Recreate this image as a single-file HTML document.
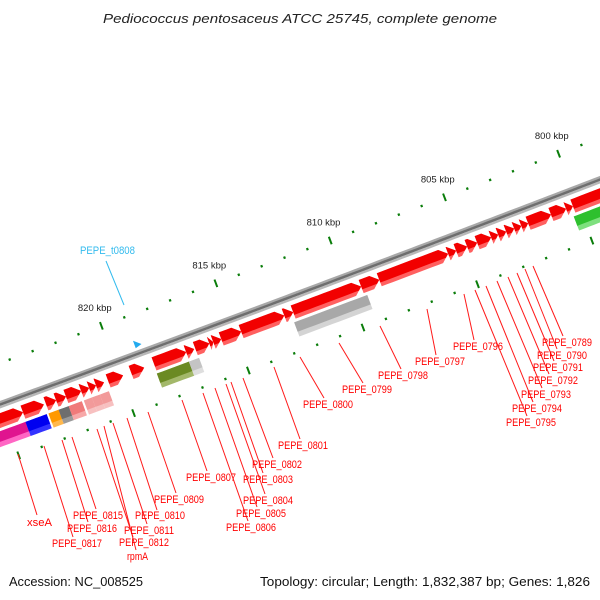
<!DOCTYPE html>
<html><head><meta charset="utf-8">
<style>
html,body{margin:0;padding:0;background:#fff;width:600px;height:600px;overflow:hidden}
svg{display:block}
text{font-family:"Liberation Sans","DejaVu Sans",sans-serif}
</style></head>
<body>
<svg id="map" width="600" height="600" viewBox="0 0 600 600" xmlns="http://www.w3.org/2000/svg">
<rect x="0" y="0" width="600" height="600" fill="#fff"/>
<text x="300" y="23" font-size="13" font-style="italic" fill="#222" text-anchor="middle" textLength="394" lengthAdjust="spacingAndGlyphs">Pediococcus pentosaceus ATCC 25745, complete genome</text>
<g id="ticks"></g>
<g id="backbone"></g>
<g id="genes"></g>
<g id="labels"></g>
<text x="9" y="586" font-size="12.5" fill="#111" textLength="134" lengthAdjust="spacingAndGlyphs">Accession: NC_008525</text>
<text x="260" y="586" font-size="12.5" fill="#111" textLength="330" lengthAdjust="spacingAndGlyphs">Topology: circular; Length: 1,832,387 bp; Genes: 1,826</text>
</svg>
<script>
// ---- data ----
const tickStart = 795;
const tickEnd = 828;
const majorTickLabels = [800, 805, 810, 815, 820];
const redGeneStarts = [825.6,824.23,823.23,822.79,822.36,821.70,821.35,821.05,820.52,819.52,818.52,817.12,816.72,816.11,815.94,815.59,814.72,812.84,812.45,809.48,808.69,805.68,805.33,804.85,804.41,803.80,803.49,803.14,802.79,802.48,802.18,801.18,800.52,800.22];
const redGeneEnds   = [824.23,823.32,822.79,822.36,821.70,821.35,821.05,820.70,519.87+300,818.95,817.12,816.77,816.11,815.94,815.59,814.72,812.84,812.45,809.48,808.69,805.68,805.33,804.85,804.41,803.80,803.49,803.14,802.79,802.48,802.18,801.18,800.52,800.22,798.6];
const row2Starts = [825.9,824.27,823.27,822.83,822.39,821.73,821.38,821.03,818.55,817.15,812.56,800.34];
const row2Ends   = [824.27,823.35,822.83,822.39,821.82,821.38,821.03,820.64,817.15,816.71,809.37,798.8];
const row2Colors = ["#e0148f","#0000f0","#ff9900","#6e6e6e","#f07a7a","#f29a9a","#f29a9a","#f29a9a","#6b8a23","#c4c4c4","#a8a8a8","#2ec02e"];
const row2Light  = ["#ff66c4","#3333ff","#ffb84d","#9a9a9a","#f7a8a8","#f7c0c0","#f7c0c0","#f7c0c0","#a3b86a","#dedede","#d4d4d4","#7ee07e"];
const trnaStart = 819.0;
const trnaEnd = 818.72;

// ---- axis ----
const R = 40000, PX_PER_KBP = 24.45, K0 = 811.9;
const P0 = [300, 292];
const N = [-0.3511, -0.9363];
const C = [P0[0] + R * N[0], P0[1] + R * N[1]];
const A0 = Math.atan2(-N[1], -N[0]);
function pt(k, v) {
  const a = A0 + (k - K0) * PX_PER_KBP / R;
  const r = R - v;
  return [C[0] + r * Math.cos(a), C[1] + r * Math.sin(a)];
}
function f(p) { return p[0].toFixed(2) + "," + p[1].toFixed(2); }
function arcPts(k1, k2, v) {
  const out = [], n = Math.max(2, Math.ceil(Math.abs(k2 - k1) / 0.25) + 1);
  for (let i = 0; i < n; i++) out.push(pt(k1 + (k2 - k1) * i / (n - 1), v));
  return out;
}
const NS = "http://www.w3.org/2000/svg";
function mk(tag, attrs, parent) {
  const el = document.createElementNS(NS, tag);
  for (const k in attrs) el.setAttribute(k, attrs[k]);
  parent.appendChild(el);
  return el;
}

// ---- tick rings ----
const tg = document.getElementById("ticks");
[39, -54].forEach(function (v, ri) {
  for (let k = tickStart; k <= tickEnd; k++) {
    const major = (k % 5 === 0);
    const len = major ? 4 : 1.2;
    const a = pt(k, v + len), b = pt(k, v - len);
    const ln = mk("line", {x1: a[0], y1: a[1], x2: b[0], y2: b[1], stroke: "#0a7d0a", "stroke-width": major ? 2 : 2.2}, tg);
    
    
  }
});
majorTickLabels.forEach(function (k) {
  const p = pt(k, 58);
  const t = mk("text", {x: p[0], y: p[1] + 3, "font-size": "9.5", fill: "#222", "text-anchor": "middle"}, tg);
  t.textContent = k + " kbp";
  
  
});

// ---- backbone ----
const bg = document.getElementById("backbone");
[[2.3, "#a8a8a8", 2.4], [0, "#6e6e6e", 2.6], [-2.4, "#b8b8b8", 2.4]].forEach(function (s) {
  const pts = arcPts(tickEnd, tickStart, s[0]);
  const pl = mk("polyline", {points: pts.map(f).join(" "), fill: "none", stroke: s[1], "stroke-width": s[2]}, bg);
  
  
});

// ---- genes ----
const gg = document.getElementById("genes");
const HEAD = 8 / PX_PER_KBP;
for (let i = 0; i < redGeneStarts.length; i++) {
  const ks = redGeneStarts[i], ke = redGeneEnds[i];
  const h = Math.min(HEAD, ks - ke), hb = ke + h;
  const v1 = -8, v2 = -22, vm = -15, vs = -18;
  let full = arcPts(ks, hb, v1).concat([pt(ke, vm)]).concat(arcPts(hb, ks, v2));
  const g = mk("g", {}, gg);
  
  
  mk("polygon", {points: full.map(f).join(" "), fill: "#ff6060"}, g);
  const fr = (v2 - vs) / (v2 - vm);
  let top = arcPts(ks, hb, v1).concat([pt(ke, vm), pt(hb + fr * (ke - hb), vs)]).concat(arcPts(hb, ks, vs));
  mk("polygon", {points: top.map(f).join(" "), fill: "#f20000"}, g);
}
for (let i = 0; i < row2Starts.length; i++) {
  const ks = row2Starts[i], ke = row2Ends[i];
  const g = mk("g", {}, gg);
  
  
  const full = arcPts(ks, ke, -25).concat(arcPts(ke, ks, -40));
  mk("polygon", {points: full.map(f).join(" "), fill: row2Light[i]}, g);
  const top = arcPts(ks, ke, -25).concat(arcPts(ke, ks, -35));
  mk("polygon", {points: top.map(f).join(" "), fill: row2Colors[i]}, g);
}
{
  const tri = [pt(trnaStart, 6), pt(trnaStart, 14), pt(trnaEnd, 8)];
  const p = mk("polygon", {points: tri.map(f).join(" "), fill: "#22aaee"}, gg);
  
  
}

// ---- labels (layout) ----
const labelNames = ["xseA","PEPE_0817","PEPE_0816","PEPE_0815","PEPE_0812","rpmA","PEPE_0811","PEPE_0810","PEPE_0809","PEPE_0807","PEPE_0806","PEPE_0805","PEPE_0804","PEPE_0803","PEPE_0802","PEPE_0801","PEPE_0800","PEPE_0799","PEPE_0798","PEPE_0797","PEPE_0796","PEPE_0795","PEPE_0794","PEPE_0793","PEPE_0792","PEPE_0791","PEPE_0790","PEPE_0789"];
const labelBoxes = [[27,522],[52,543],[67,528],[73,515],[119,542],[127,556],[124,530],[135,515],[154,499],[186,477],[226,527],[236,513],[243,500],[243,479],[252,464],[278,445],[303,404],[342,389],[378,375],[415,361],[453,346],[506,422],[512,408],[521,394],[528,380],[533,367],[537,355],[542,342]];
const leaderLines = [[18,454,37,515],[44,446,73,537],[62,440,88,522],[72,437,96,509],[97,429,133,537],[104,426,136,550],[113,423,147,524],[127,418,157,510],[148,412,176,493],[182,400,207,471],[203,393,248,521],[215,388,257,507],[226,384,265,494],[231,382,263,473],[243,378,273,458],[274,367,300,439],[300,357,324,398],[339,343,363,383],[380,326,401,369],[427,309,436,355],[464,294,474,340],[475,290,527,416],[486,286,533,402],[497,281,542,388],[508,277,549,374],[517,273,554,361],[525,269,557,349],[533,266,563,336]];
const lg = document.getElementById("labels");
for (let i = 0; i < labelNames.length; i++) {
  const L = leaderLines[i];
  const ln = mk("line", {x1: L[0], y1: L[1], x2: L[2], y2: L[3], stroke: "#ff1a1a", "stroke-width": 1}, lg);
  
  
  const nm = labelNames[i];
  const w = nm.length === 9 ? 50 : (nm === "xseA" ? 25 : 21);
  const t = mk("text", {x: labelBoxes[i][0], y: labelBoxes[i][1] + 4, "font-size": "11", fill: "#ff0000", textLength: w, lengthAdjust: "spacingAndGlyphs"}, lg);
  t.textContent = nm;
  
  
}
{
  const ln = mk("line", {x1: 106, y1: 261, x2: 124, y2: 305, stroke: "#33bbee", "stroke-width": 1}, lg);
  
  
  const t = mk("text", {x: 80, y: 254, "font-size": "11", fill: "#33bbee", textLength: 55, lengthAdjust: "spacingAndGlyphs"}, lg);
  t.textContent = "PEPE_t0808";
  
  
}
</script>
</body></html>
